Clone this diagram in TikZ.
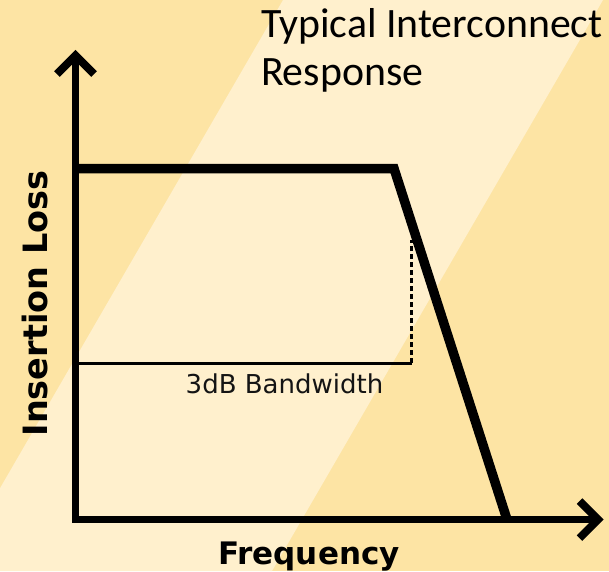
\documentclass[tikz,border=0pt]{standalone}
\usepackage{fontspec}
\setmainfont{Carlito}
\newfontfamily\vfont{DejaVu Sans}
\definecolor{bgdark}{RGB}{253,228,164}
\definecolor{bglight}{RGB}{255,240,205}
\definecolor{inkgray}{RGB}{20,20,20}

\begin{document}
\begin{tikzpicture}[x=1pt,y=-1pt,
  axisline/.style={line width=7.8pt,line join=miter,line cap=butt},
  tiparm/.style={line width=7.8pt,line join=miter,line cap=butt},
  curve/.style={line width=9.5pt,line join=miter},
  thinline/.style={line width=3pt},
  dashline/.style={line width=3.2pt,dash pattern=on 5pt off 3pt},
  lbl/.style={inner sep=0pt,outer sep=0pt},
  axlabel/.style={lbl,font=\vfont\bfseries\fontsize{31}{36}\selectfont},
]
\useasboundingbox (0,0) rectangle (609,571);

% striped background
\begin{scope}
  \clip (0,0) rectangle (609,571);
  \fill[bgdark] (0,0) rectangle (609,571);
  \fill[bglight] (283,0) -- (603,0) -- (272,571) -- (-48,571) -- cycle;
\end{scope}

% key points of the response
\coordinate (origin) at (75.5,519.5);
\coordinate (ytip)   at (75.5,55.5);
\coordinate (xtip)   at (598,519.5);
\coordinate (pstart) at (75.5,168.5);
\coordinate (knee)   at (394,168.5);
\coordinate (pend)   at (507,519.5);
\coordinate (bwleft) at (75.5,363);
\coordinate (bwcorner) at (411.5,363);
\coordinate (bwtop)  at (411.5,240);

% 3 dB bandwidth marker
\draw[thinline] (bwleft) -- (bwcorner);
\draw[dashline] (bwcorner) -- (bwtop);

% axes with open arrowheads
\draw[axisline] (ytip) -- (origin) -- (xtip);
\draw[tiparm] (57,74) -- (ytip) -- (94,74);
\draw[tiparm] (579.5,501) -- (xtip) -- (579.5,538);

% insertion loss curve
\draw[curve] (pstart) -- (knee) -- (pend);

% labels
\node[lbl,anchor=base west,font=\fontsize{41.8}{47}\selectfont] (title1) at (261,37.7) {Typical Interconnect};
\node[lbl,anchor=base west,font=\fontsize{41.8}{47}\selectfont] (title2) at (261,85) {Response};
\node[lbl,anchor=base,text=inkgray,font=\vfont\fontsize{26}{30}\selectfont] (bw) at (284.5,393) {3dB Bandwidth};
\node[axlabel,anchor=base] (xlabel) at (309,564.5) {Frequency};
\node[axlabel,anchor=base,rotate=90,font=\vfont\bfseries\fontsize{33.5}{36}\selectfont] (ylabel) at (47,303.5) {Insertion Loss};
\end{tikzpicture}
\end{document}
